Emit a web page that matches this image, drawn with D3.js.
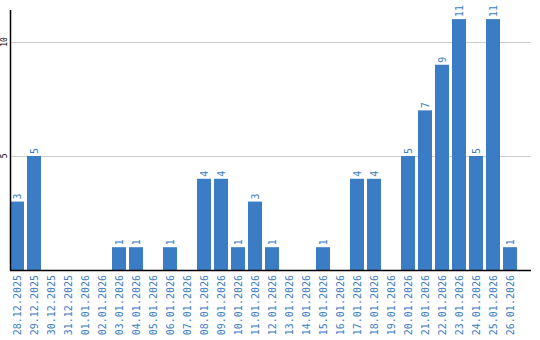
<!DOCTYPE html>
<html><head><meta charset="utf-8">
<script src="https://cdn.jsdelivr.net/npm/d3@7"></script>
<style>body{margin:0;background:#fff}svg{display:block}</style>
</head><body>
<svg id="c" width="540" height="340"></svg>
<script>
const categories = ["28.12.2025","29.12.2025","30.12.2025","31.12.2025","01.01.2026","02.01.2026","03.01.2026","04.01.2026","05.01.2026","06.01.2026","07.01.2026","08.01.2026","09.01.2026","10.01.2026","11.01.2026","12.01.2026","13.01.2026","14.01.2026","15.01.2026","16.01.2026","17.01.2026","18.01.2026","19.01.2026","20.01.2026","21.01.2026","22.01.2026","23.01.2026","24.01.2026","25.01.2026","26.01.2026"];
const values = [3,5,0,0,0,0,1,1,0,1,0,4,4,1,3,1,0,0,1,0,4,4,0,5,7,9,11,5,11,1];
const yTicks = [5,10];

(function(){
const svg = d3.select("#c");
const mLeft = 10, mRight = 531, mTop = 10, mBottom = 270;
const blue = "#3b7dc4";
const mono = "'DejaVu Sans Mono', monospace";

const x = d3.scaleBand().domain(categories).range([mLeft, 517]).paddingInner(3/17).paddingOuter(0);
const y = d3.scaleLinear().domain([0, 11.4]).range([mBottom, mTop]);
const rows = values.map((v,i)=>({c:categories[i], v}));

svg.append("g").selectAll("line").data(yTicks).join("line")
  .attr("x1", mLeft).attr("x2", mRight)
  .attr("y1", d => Math.round(y(d)) + 0.5).attr("y2", d => Math.round(y(d)) + 0.5)
  .attr("stroke", "#cccccc").attr("stroke-width", 1);

svg.append("g").selectAll("text").data(yTicks).join("text")
  .attr("transform", d => `translate(7,${y(d)}) rotate(-90)`)
  .attr("text-anchor", "middle")
  .attr("font-family", mono).attr("font-size", 8)
  .attr("fill", "#000").text(d => d);

svg.append("g").selectAll("rect").data(rows.filter(d => d.v > 0)).join("rect")
  .attr("x", d => x(d.c)).attr("width", x.bandwidth())
  .attr("y", d => y(d.v)).attr("height", d => y(0) - y(d.v))
  .attr("fill", blue);

svg.append("g").selectAll("text").data(rows.filter(d => d.v > 0)).join("text")
  .attr("transform", d => `translate(${x(d.c) + x.bandwidth()/2 + 3.5},${y(d.v) - 2}) rotate(-90)`)
  .attr("text-anchor", "start")
  .attr("font-family", mono).attr("font-size", 10)
  .attr("fill", blue).text(d => d.v);

svg.append("line").attr("x1", mLeft + 0.5).attr("x2", mLeft + 0.5).attr("y1", mTop).attr("y2", mBottom)
  .attr("stroke", "#000").attr("stroke-width", 1.5);
svg.append("line").attr("x1", mLeft).attr("x2", mRight).attr("y1", mBottom + 0.5).attr("y2", mBottom + 0.5)
  .attr("stroke", "#000").attr("stroke-width", 1.5);

svg.append("g").selectAll("text").data(categories).join("text")
  .attr("transform", d => `translate(${x(d) + x.bandwidth()/2 + 3.5},275) rotate(-90)`)
  .attr("text-anchor", "end")
  .attr("font-family", mono).attr("font-size", 10)
  .attr("fill", blue).text(d => d);
})();
</script>
</body></html>
